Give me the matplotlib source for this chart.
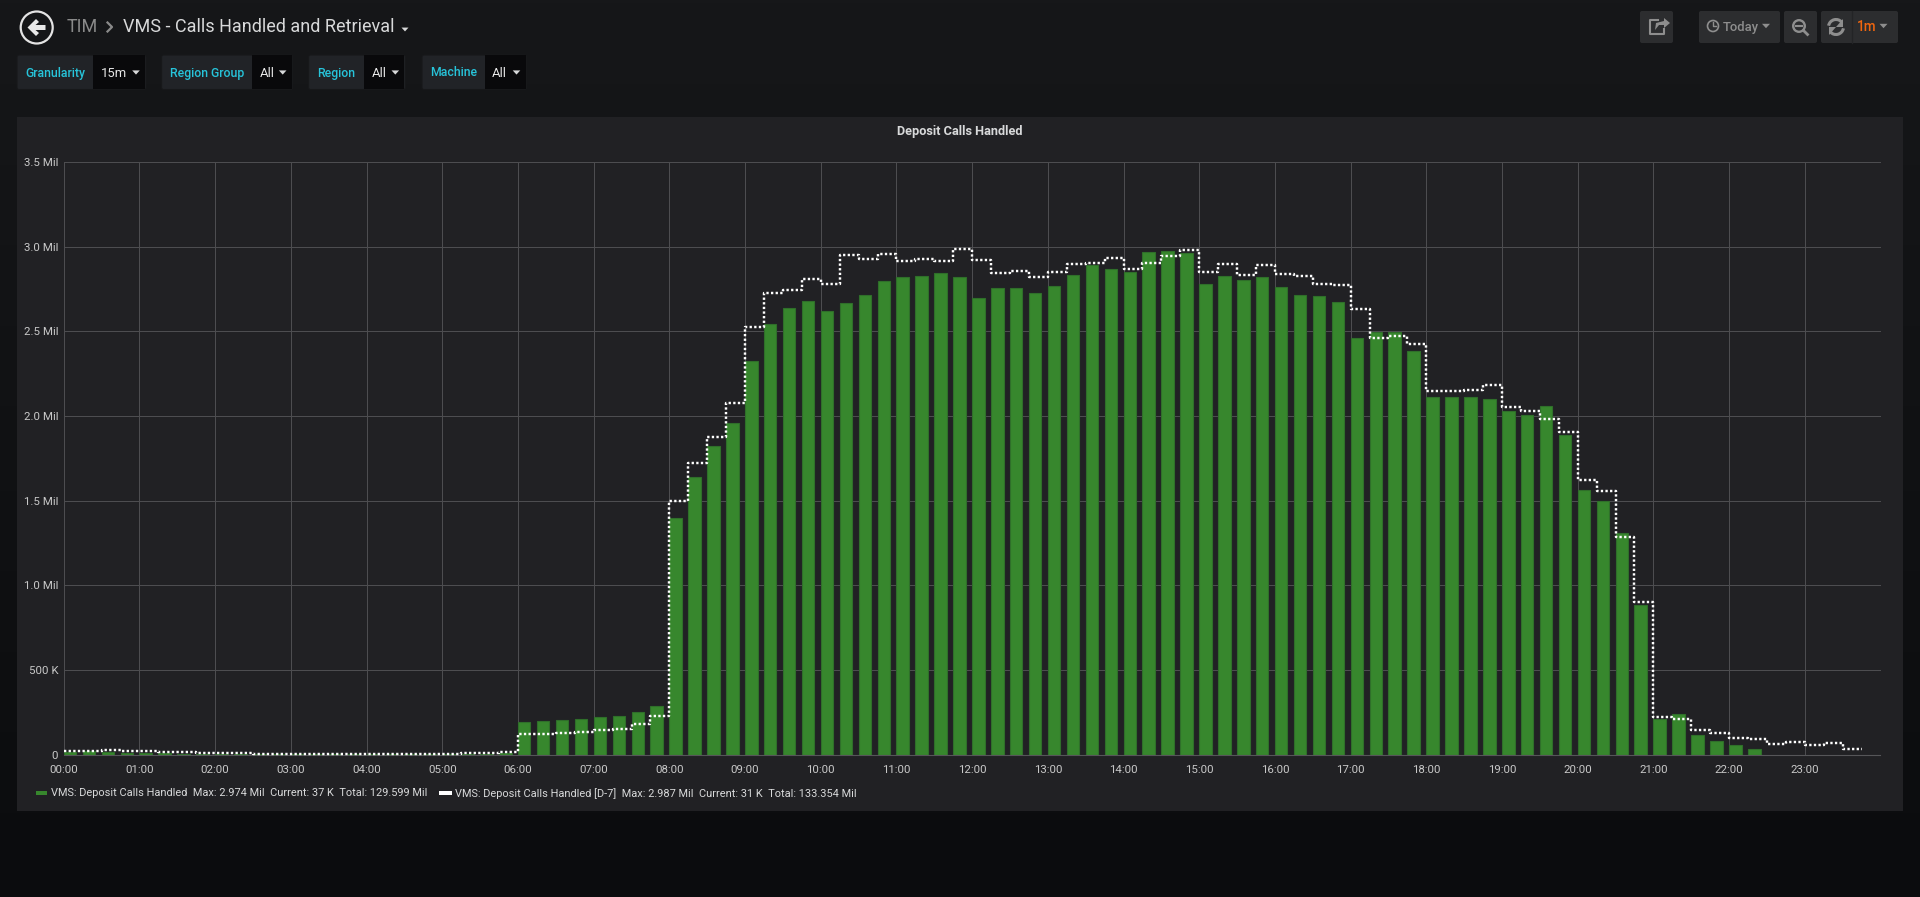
import numpy as np
import matplotlib
matplotlib.use("Agg")
import matplotlib.pyplot as plt
from matplotlib.patches import Rectangle, FancyBboxPatch, Circle, Polygon, Arc

plt.rcParams['font.family'] = ['Roboto', 'DejaVu Sans']

W, H = 1920, 897

# values in millions, one every 15 minutes from 00:00
calls_today = [
    0.018, 0.022, 0.014, 0.012, 0.010, 0.008, 0.006, 0.005,
    0.005, 0.004, 0.003, 0.003, 0.003, 0.002, 0.002, 0.002,
    0.002, 0.002, 0.003, 0.003, 0.004, 0.006, 0.007, 0.008,
    0.196, 0.202, 0.208, 0.214, 0.224, 0.229, 0.253, 0.290,
    1.396, 1.640, 1.820, 1.960, 2.325, 2.541, 2.637, 2.678,
    2.620, 2.665, 2.712, 2.796, 2.822, 2.824, 2.843, 2.820,
    2.698, 2.753, 2.753, 2.727, 2.765, 2.833, 2.892, 2.867,
    2.851, 2.969, 2.974, 2.963, 2.780, 2.827, 2.800, 2.818,
    2.759, 2.712, 2.706, 2.675, 2.459, 2.498, 2.498, 2.384,
    2.110, 2.114, 2.114, 2.102, 2.031, 2.008, 2.061, 1.888,
    1.561, 1.498, 1.312, 0.882, 0.210, 0.239, 0.118, 0.084,
    0.059, 0.037,
]
calls_d7 = [
    0.020, 0.023, 0.026, 0.020, 0.020, 0.018, 0.018, 0.012,
    0.009, 0.008, 0.007, 0.007, 0.006, 0.005, 0.005, 0.005,
    0.005, 0.005, 0.005, 0.005, 0.007, 0.010, 0.012, 0.014,
    0.122, 0.125, 0.129, 0.135, 0.145, 0.155, 0.184, 0.229,
    1.500, 1.725, 1.873, 2.078, 2.524, 2.724, 2.743, 2.810,
    2.780, 2.949, 2.927, 2.953, 2.916, 2.929, 2.916, 2.986,
    2.922, 2.843, 2.853, 2.822, 2.849, 2.894, 2.904, 2.933,
    2.867, 2.902, 2.943, 2.978, 2.849, 2.894, 2.829, 2.892,
    2.835, 2.824, 2.778, 2.775, 2.629, 2.459, 2.473, 2.422,
    2.149, 2.145, 2.153, 2.182, 2.053, 2.027, 1.984, 1.904,
    1.620, 1.555, 1.288, 0.900, 0.222, 0.214, 0.149, 0.129,
    0.098, 0.092, 0.065, 0.075, 0.059, 0.067, 0.037, 0.037,
]
y_ticks = [0, 0.5, 1.0, 1.5, 2.0, 2.5, 3.0, 3.5]
y_labels = ['0', '500 K', '1.0 Mil', '1.5 Mil', '2.0 Mil', '2.5 Mil', '3.0 Mil', '3.5 Mil']
hour_ticks = list(range(24))
hour_labels = ['%02d:00' % h for h in hour_ticks]

legend_today = 'VMS: Deposit Calls Handled  Max: 2.974 Mil  Current: 37 K  Total: 129.599 Mil'
legend_d7 = 'VMS: Deposit Calls Handled [D-7]  Max: 2.987 Mil  Current: 31 K  Total: 133.354 Mil'


def pt(px):
    return px * 0.72


fig = plt.figure(figsize=(W / 100, H / 100), dpi=100)

# page chrome, drawn in pixel coordinates
ui = fig.add_axes([0, 0, 1, 1])
ui.set_xlim(0, W)
ui.set_ylim(H, 0)
ui.axis('off')

top_c = np.array([0x16, 0x17, 0x19]) / 255
bot_c = np.array([0x0b, 0x0c, 0x0e]) / 255
grad = np.linspace(0, 1, 256)[:, None, None] * (bot_c - top_c) + top_c
ui.imshow(grad, extent=[0, W, H, 0], aspect='auto', zorder=0)
ui.set_xlim(0, W)
ui.set_ylim(H, 0)


def box(x0, y0, x1, y1, color, rad=2, z=1, edge='none'):
    ui.add_patch(FancyBboxPatch((x0 + rad, y0 + rad), x1 - x0 - 2 * rad, y1 - y0 - 2 * rad,
                                boxstyle='round,pad=%d,rounding_size=%d' % (rad, rad),
                                fc=color, ec=edge, lw=0.8, zorder=z))


def caret(x, y, size, color):
    ui.add_patch(Polygon([(x - size, y - size * 0.55), (x + size, y - size * 0.55), (x, y + size * 0.55)],
                         fc=color, ec='none', zorder=4))


# panel
ui.add_patch(Rectangle((17, 117.5), 1886, 693.5, fc='#212124', ec='none', zorder=1))

# back button and title
ui.add_patch(Circle((36.7, 27.5), 16, fc='none', ec='#e4e4e4', lw=1.6, zorder=3))
ui.add_patch(Polygon([(27.5, 27.5), (36, 19), (39, 22), (35.5, 25), (45.5, 25), (45.5, 30), (35.5, 30), (39, 33), (36, 36)],
                     fc='#e8e8e8', ec='none', zorder=3))
ui.text(67, 27, 'TIM', color='#8a8a8a', fontsize=pt(18), va='center', ha='left', zorder=4)
ui.plot([107.5, 112, 107.5], [22.5, 27, 31.5], color='#8a8a8a', lw=1.6, zorder=4)
ui.text(123, 27, 'VMS - Calls Handled and Retrieval', color='#d8d9da', fontsize=pt(18),
        va='center', ha='left', zorder=4)
caret(405, 29.5, 3.5, '#d8d9da')

# template variables
pills = [
    ('Granularity', '15m', 17, 93, 146),
    ('Region Group', 'All', 161.6, 252, 292.7),
    ('Region', 'All', 308.6, 364, 405.3),
    ('Machine', 'All', 422, 484.5, 526.5),
]
for label, value, x0, xm, x1 in pills:
    box(x0, 55, x1, 89.5, '#212327', edge='#17181a')
    ui.add_patch(Rectangle((xm, 55.5), x1 - xm - 1, 33.5, fc='#09090b', ec='none', zorder=2))
    ui.text((x0 + xm) / 2, 73, label, color='#27c4da', fontsize=pt(12.3), fontweight='medium',
            va='center', ha='center', zorder=4)
    ui.text(xm + 7.5, 73.5, value, color='#e8e8e8', fontsize=pt(13), va='center', ha='left', zorder=4)
    caret(x1 - 10, 72.5, 3.8, '#d8d9da')

# toolbar
btn = '#2c2d2f'
grey = '#8e8e8e'
box(1640, 11, 1673, 43, btn)
box(1699, 11, 1780, 43, btn)
box(1784, 11, 1817, 43, btn)
box(1821, 11, 1898, 43, btn)
ui.plot([1852, 1852], [11, 43], color='#232426', lw=1, zorder=3)

# share icon
ui.plot([1658, 1650, 1650, 1664, 1664], [20, 20, 34, 34, 29], color=grey, lw=1.5, zorder=4)
ui.add_patch(Polygon([(1664, 18), (1670, 23), (1664, 28), (1664, 25), (1659, 25), (1655, 30), (1656, 23), (1664, 21)],
                     fc=grey, ec='none', zorder=4))
# clock icon
ui.add_patch(Circle((1713, 26), 5.5, fc='none', ec=grey, lw=1.2, zorder=4))
ui.plot([1713, 1713, 1716], [22.5, 26.5, 26.5], color=grey, lw=1, zorder=4)
ui.text(1723, 27, 'Today', color=grey, fontsize=pt(13), fontweight='medium', va='center', ha='left', zorder=4)
caret(1766, 26, 4, grey)
# zoom out icon
ui.add_patch(Circle((1799, 26), 5.8, fc='none', ec=grey, lw=1.7, zorder=4))
ui.plot([1796, 1802], [26, 26], color=grey, lw=1.5, zorder=4)
ui.plot([1803.5, 1807.5], [30.5, 34.5], color=grey, lw=2, zorder=4)
# refresh icon
ui.add_patch(Arc((1836, 27), 15, 15, theta1=190, theta2=320, color=grey, lw=2.2, zorder=4))
ui.add_patch(Arc((1836, 27), 15, 15, theta1=10, theta2=140, color=grey, lw=2.2, zorder=4))
ui.add_patch(Polygon([(1843, 19), (1843, 27), (1836, 27)], fc=grey, ec='none', zorder=4))
ui.add_patch(Polygon([(1829, 35), (1829, 27), (1836, 27)], fc=grey, ec='none', zorder=4))
ui.text(1857, 27, '1m', color='#f0660f', fontsize=pt(13.5), fontweight='medium', va='center', ha='left', zorder=4)
caret(1883.5, 26, 4, grey)

ui.text(960, 131, 'Deposit Calls Handled', color='#d8d9da', fontsize=pt(12.8), fontweight='bold',
        va='center', ha='center', zorder=4)

# legend
ui.add_patch(Rectangle((35.5, 791.5), 11.5, 4, fc='#37872d', ec='none', zorder=4))
ui.text(51, 793.5, legend_today, color='#d8d9da', fontsize=pt(11.05), va='center', ha='left', zorder=4)
ui.add_patch(Rectangle((439, 791.5), 12.5, 4, fc='#ffffff', ec='none', zorder=4))
ui.text(455, 793.5, legend_d7, color='#d8d9da', fontsize=pt(11.05), va='center', ha='left', zorder=4)

# the chart itself
left, right, top, bottom = 63.8, 1880.5, 161.8, 754.8
ax = fig.add_axes([left / W, 1 - bottom / H, (right - left) / W, (bottom - top) / H])
ax.patch.set_alpha(0)
ax.set_xlim(0, 24)
ax.set_ylim(0, 3.5)

bar_x = np.arange(len(calls_today)) * 0.25
line_x = np.arange(len(calls_d7)) * 0.25
ax.bar(bar_x, calls_today, width=0.165, align='edge', color='#37872d', edgecolor='#2f6f2a', linewidth=0.8, zorder=2)
ax.plot(line_x, calls_d7, drawstyle='steps-post', color='white', lw=1.75, linestyle=(0, (0.95, 0.95)),
        dash_capstyle='butt', clip_on=False, zorder=3)

ax.set_axisbelow(True)
ax.set_xticks(hour_ticks)
ax.set_xticklabels(hour_labels)
ax.set_yticks(y_ticks)
ax.set_yticklabels(y_labels)
ax.grid(True, color='#4d4d50', lw=0.72)
ax.tick_params(axis='both', length=0, labelcolor='#c8c8c8', labelsize=pt(11.5))
ax.tick_params(axis='x', pad=7)
ax.tick_params(axis='y', pad=4)
for name in ['top', 'right', 'left']:
    ax.spines[name].set_visible(False)
ax.spines['bottom'].set_color('#565659')
ax.spines['bottom'].set_linewidth(0.8)

fig.savefig('out.png', dpi=100)
